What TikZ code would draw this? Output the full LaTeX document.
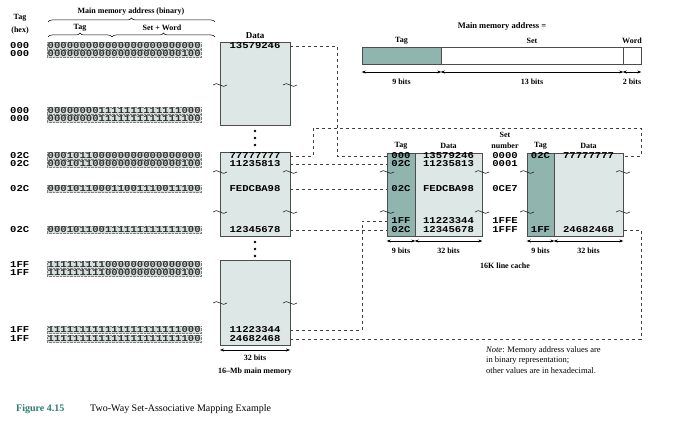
\documentclass[tikz,border=0pt]{standalone}
\usepackage{fontspec}
\setmainfont{Liberation Serif}
\newfontfamily\vmono[FakeStretch=1.18]{Liberation Mono}
\usetikzlibrary{decorations.pathreplacing,arrows.meta}
\definecolor{tagc}{HTML}{8FB5AE}
\definecolor{datac}{HTML}{DDE7E5}
\definecolor{binc}{HTML}{D6DFDD}
\definecolor{figc}{HTML}{2A7B74}
\tikzset{
 val/.style={font=\vmono\bfseries\fontsize{9}{9}\selectfont,inner sep=0pt},
 bin/.style={font=\vmono\bfseries\fontsize{9}{9}\selectfont,inner sep=0.5pt,fill=binc,draw=gray,densely dotted,anchor=west,text=black!80},
 hex/.style={font=\vmono\bfseries\fontsize{9}{9}\selectfont,inner sep=0pt,anchor=west},
 lbl/.style={font=\bfseries\fontsize{8}{9}\selectfont,inner sep=0pt},
 tagbox/.style={draw=gray!60!black,fill=tagc,inner sep=0pt,line width=0.6pt},
 databox/.style={draw=gray!60!black,fill=datac,inner sep=0pt,line width=0.6pt},
 conn/.style={dashed,gray!50!black,line width=0.5pt},
 dim/.style={{Stealth[length=4pt]}-{Stealth[length=4pt]},line width=0.5pt},
 tld/.style={line width=0.6pt,gray!30!black},
 brc/.style={decorate,decoration={brace,amplitude=4pt},line width=0.5pt},
}
\newcommand{\tild}[2]{\draw[tld] (#1-7,#2) .. controls (#1-3,#2-5) and (#1+3,#2+5) .. (#1+7,#2);}
\begin{document}
\begin{tikzpicture}[x=1pt,y=-1pt]
\useasboundingbox (0,0) rectangle (692,427);
% header left
\node[lbl] (th1) at (20,18) {Tag};
\node[lbl] (th2) at (20,31) {(hex)};
\node[lbl] (mma) at (131,12) {Main memory address (binary)};
\draw[brc] (48,22) -- (215,22);
\node[lbl] (tgh) at (80,28) {Tag};
\node[lbl] (swh) at (162,28) {Set + Word};
\draw[brc] (48,37) -- (112,37);
\draw[brc] (112,37) -- (215,37);
% main memory boxes
\node[lbl,font=\bfseries\fontsize{9}{10}\selectfont] (dh) at (255,36) {Data};
\node[databox,minimum width=70,minimum height=83] (mb1) at (255,83.5) {};
\node[databox,minimum width=70,minimum height=84] (mb2) at (255,194) {};
\node[databox,minimum width=70,minimum height=85] (mb3) at (255,302.5) {};
\foreach \y in {131,138,145,242,249,256}{\fill (255,\y) circle (1.3);}
\foreach \y in {85,172,212,303}{\tild{220}{\y}\tild{290}{\y}}
% rows
\node[hex] (h1) at (10,46) {000}; \node[bin] (b1) at (47,46) {000000000000000000000000}; \node[val] (m1) at (255,46) {13579246};
\node[hex] (h2) at (10,54) {000}; \node[bin] (b2) at (47,54) {000000000000000000000100};
\node[hex] (h3) at (10,111) {000}; \node[bin] (b3) at (47,111) {000000001111111111111000};
\node[hex] (h4) at (10,119) {000}; \node[bin] (b4) at (47,119) {000000001111111111111100};
\node[hex] (h5) at (10,156) {02C}; \node[bin] (b5) at (47,156) {000101100000000000000000}; \node[val] (m5) at (255,156) {77777777};
\node[hex] (h6) at (10,164) {02C}; \node[bin] (b6) at (47,164) {000101100000000000000100}; \node[val] (m6) at (255,164) {11235813};
\node[hex] (h7) at (10,189) {02C}; \node[bin] (b7) at (47,189) {000101100011001110011100}; \node[val] (m7) at (255,189) {FEDCBA98};
\node[hex] (h8) at (10,230) {02C}; \node[bin] (b8) at (47,230) {000101100111111111111100}; \node[val] (m8) at (255,230) {12345678};
\node[hex] (h9) at (10,265) {1FF}; \node[bin] (b9) at (47,265) {111111111000000000000000};
\node[hex] (h10) at (10,273) {1FF}; \node[bin] (b10) at (47,273) {111111111000000000000100};
\node[hex] (h11) at (10,330) {1FF}; \node[bin] (b11) at (47,330) {111111111111111111111000}; \node[val] (m11) at (255,330) {11223344};
\node[hex] (h12) at (10,339) {1FF}; \node[bin] (b12) at (47,339) {111111111111111111111100}; \node[val] (m12) at (255,339) {24682468};
\coordinate (ml) at (220,350); \coordinate (mr) at (290,350);
\draw[dim] (ml) -- (mr);
\node[lbl] (m32) at (255,358) {32 bits};
\node[lbl] (mmm) at (255,372) {16--Mb main memory};
% address format
\node[lbl,font=\bfseries\fontsize{8.5}{9}\selectfont] (mae) at (502,26) {Main memory address =};
\node[tagbox,minimum width=79,minimum height=17] (at) at (401.5,55.5) {};
\node[draw=gray!60!black,fill=white,minimum width=182,minimum height=17,inner sep=0pt,line width=0.6pt] (as) at (532,55.5) {};
\node[draw=gray!60!black,fill=white,minimum width=18,minimum height=17,inner sep=0pt,line width=0.6pt] (aw) at (632,55.5) {};
\node[lbl] at (401.5,41) {Tag};
\node[lbl] at (532,41) {Set};
\node[lbl] at (632,41) {Word};
\draw[dim] (at.west |- 0,72) -- (at.east |- 0,72);
\draw[dim] (as.west |- 0,72) -- (as.east |- 0,72);
\draw[dim] (aw.west |- 0,72) -- (aw.east |- 0,72);
\node[lbl] at (401.5,82) {9 bits};
\node[lbl] at (532,82) {13 bits};
\node[lbl] at (632,82) {2 bits};
% cache
\node[tagbox,minimum width=28,minimum height=83] (ct0) at (401,194.5) {};
\node[databox,minimum width=67,minimum height=83] (cd0) at (448.5,194.5) {};
\node[tagbox,minimum width=27,minimum height=83] (ct1) at (540.5,194.5) {};
\node[databox,minimum width=69,minimum height=83] (cd1) at (588.5,194.5) {};
\foreach \x in {387,482,527,623}{\foreach \y in {172,212}{\tild{\x}{\y}}}
\node[lbl] at (401,146) {Tag};
\node[lbl] at (448.5,146) {Data};
\node[lbl] at (505,135) {Set};
\node[lbl] at (505,146) {number};
\node[lbl] at (540.5,146) {Tag};
\node[lbl] at (588.5,146) {Data};
\node[val] (t1) at (401,156) {000}; \node[val] (d1) at (448.5,156) {13579246}; \node[val] (s1) at (505,156) {0000};
\node[val] (t2) at (401,164) {02C}; \node[val] (d2) at (448.5,164) {11235813}; \node[val] (s2) at (505,164) {0001};
\node[val] (t3) at (401,189) {02C}; \node[val] (d3) at (448.5,189) {FEDCBA98}; \node[val] (s3) at (505,189) {0CE7};
\node[val] (t4) at (401,221) {1FF}; \node[val] (d4) at (448.5,221) {11223344}; \node[val] (s4) at (505,221) {1FFE};
\node[val] (t5) at (401,230) {02C}; \node[val] (d5) at (448.5,230) {12345678}; \node[val] (s5) at (505,230) {1FFF};
\node[val] (u1) at (540.5,156) {02C}; \node[val] (e1) at (588.5,156) {77777777};
\node[val] (u5) at (540.5,230) {1FF}; \node[val] (e5) at (588.5,230) {24682468};
\draw[dim] (ct0.west |- 0,241) -- (ct0.east |- 0,241);
\draw[dim] (cd0.west |- 0,241) -- (cd0.east |- 0,241);
\draw[dim] (ct1.west |- 0,241) -- (ct1.east |- 0,241);
\draw[dim] (cd1.west |- 0,241) -- (cd1.east |- 0,241);
\node[lbl] at (401,251) {9 bits};
\node[lbl] at (448.5,251) {32 bits};
\node[lbl] at (540.5,251) {9 bits};
\node[lbl] at (588.5,251) {32 bits};
\node[lbl] at (505,266) {16K line cache};
% connectors
\draw[conn] (m1 -| mb1.east) -- (337,46) -- (337,156) -- (t1 -| ct0.west);
\draw[conn] (m5 -| mb2.east) -- (313,156) -- (313,128) -- (641,128) -- (641,156) -- (e1 -| cd1.east);
\draw[conn] (m6 -| mb2.east) -- (t2 -| ct0.west);
\draw[conn] (m7 -| mb2.east) -- (t3 -| ct0.west);
\draw[conn] (m8 -| mb2.east) -- (t5 -| ct0.west);
\draw[conn] (m11 -| mb3.east) -- (362,330) -- (362,221) -- (t4 -| ct0.west);
\draw[conn] (m12 -| mb3.east) -- (641,339) -- (641,230) -- (e5 -| cd1.east);
% note and caption
\node[anchor=west,align=left,inner sep=0pt,font=\fontsize{8.5}{10.5}\selectfont] (note) at (486,360) {\textit{Note}: Memory address values are\\in binary representation;\\other values are in hexadecimal.};
\node[anchor=west,inner sep=0pt,text=figc,font=\bfseries\fontsize{10}{12}\selectfont] (fig) at (16,409) {Figure 4.15};
\node[anchor=west,inner sep=0pt,font=\fontsize{10}{12}\selectfont] (cap) at (90,409) {Two-Way Set-Associative Mapping Example};
\end{tikzpicture}
\end{document}
